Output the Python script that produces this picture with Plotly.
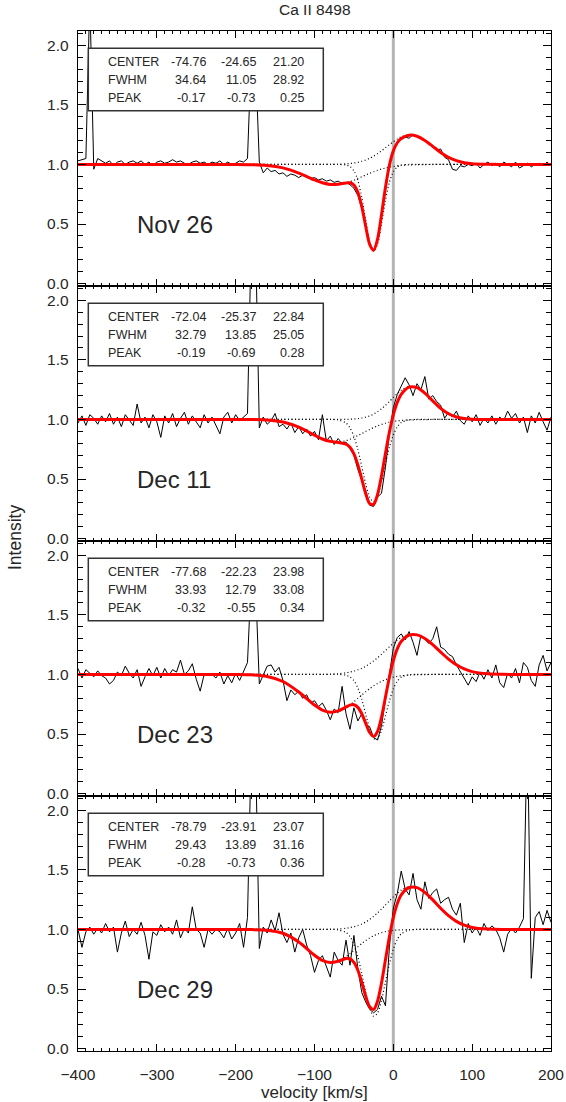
import plotly.graph_objects as go
from plotly.subplots import make_subplots

# ---------------- data ----------------
title_text = "Ca II 8498"
panel_dates = ["Nov 26", "Dec 11", "Dec 23", "Dec 29"]
row_labels = ["CENTER", "FWHM", "PEAK"]
x_tick_values = [-400, -300, -200, -100, 0, 100, 200]
y_tick_values = [0.0, 0.5, 1.0, 1.5, 2.0]
rest_velocity = 0

velocity = [
    -400, -395, -390, -385, -380, -375, -370, -365, -360, -355,
    -350, -345, -340, -335, -330, -325, -320, -315, -310, -305,
    -300, -295, -290, -285, -280, -275, -270, -265, -260, -255,
    -250, -245, -240, -235, -230, -225, -220, -215, -210, -205,
    -200, -195, -190, -185, -180, -175, -170, -165, -160, -155,
    -150, -145, -140, -135, -130, -125, -120, -115, -110, -105,
    -100, -95, -90, -85, -80, -75, -70, -65, -60, -55,
    -50, -45, -40, -35, -30, -25, -20, -15, -10, -5,
    0, 5, 10, 15, 20, 25, 30, 35, 40, 45,
    50, 55, 60, 65, 70, 75, 80, 85, 90, 95,
    100, 105, 110, 115, 120, 125, 130, 135, 140, 145,
    150, 155, 160, 165, 170, 175, 180, 185, 190, 195,
    200]

spectrum_nov26 = [
    1.03, 1.04, 1.05, 2.40, 0.96, 1.05, 1.03, 1.01, 1.03, 0.99,
    1.02, 1.03, 1.00, 1.02, 1.03, 1.01, 1.03, 1.00, 1.02, 0.99,
    1.02, 1.03, 1.01, 1.02, 1.04, 1.02, 1.03, 1.01, 1.00, 1.02,
    1.03, 1.01, 1.02, 1.00, 1.02, 1.01, 1.03, 1.00, 1.02, 1.00,
    1.01, 1.03, 1.02, 1.05, 1.95, 1.90, 1.02, 0.93, 0.97, 0.94,
    0.95, 0.92, 0.93, 0.90, 0.92, 0.91, 0.89, 0.91, 0.90, 0.88,
    0.89, 0.87, 0.88, 0.86, 0.87, 0.85, 0.86, 0.84, 0.85, 0.83,
    0.80, 0.74, 0.63, 0.47, 0.33, 0.28, 0.36, 0.57, 0.80, 0.99,
    1.12, 1.19, 1.21, 1.23, 1.22, 1.25, 1.24, 1.22, 1.20, 1.17,
    1.15, 1.12, 1.13, 1.06, 1.04, 0.96, 0.95, 0.99, 0.98, 1.00,
    0.99, 1.01, 0.97, 1.00, 1.02, 0.99, 1.01, 0.98, 1.02, 1.00,
    0.98, 1.02, 0.97, 0.99, 1.01, 0.98, 1.00, 1.01, 0.99, 1.02,
    0.99]

spectrum_dec11 = [
    0.97, 1.03, 0.95, 1.04, 1.01, 0.96, 1.03, 0.98, 1.05, 0.96,
    1.02, 0.94, 1.04, 0.99, 0.95, 1.13, 0.97, 1.02, 0.93, 1.04,
    0.98, 0.85, 1.03, 0.97, 1.05, 0.94, 1.01, 1.06, 0.96, 1.03,
    0.98, 0.93, 1.04, 0.97, 1.02, 0.95, 0.88, 1.02, 1.06, 0.97,
    1.04, 0.99, 1.02, 1.05, 2.60, 2.60, 0.93, 1.02, 0.96, 0.99,
    1.05, 0.94, 0.96, 0.92, 0.97, 0.89, 0.94, 0.88, 0.92, 0.86,
    0.90, 0.83, 1.04, 0.82, 0.86, 0.79, 0.84, 0.80, 0.81, 0.75,
    0.70, 0.58, 0.49, 0.40, 0.28, 0.27, 0.35, 0.38, 0.60, 0.88,
    1.10, 1.21, 1.28, 1.35, 1.29, 1.20, 1.30, 1.25, 1.36, 1.17,
    1.20, 1.15, 1.12, 1.01, 1.06, 1.02, 1.07, 0.99, 0.96, 1.03,
    0.98, 1.04, 0.95, 1.01, 0.97, 1.03, 0.96, 1.02, 0.99, 1.07,
    1.01, 1.05, 0.97, 1.02, 0.89, 1.03, 0.97, 1.06, 0.98, 0.91,
    1.02]

spectrum_dec23 = [
    1.05, 0.97, 1.04, 1.01, 0.98, 1.03, 0.99, 0.97, 0.92, 0.95,
    1.02, 0.99, 1.07, 1.01, 0.97, 1.04, 0.90, 0.98, 1.05, 0.99,
    1.06, 0.97, 1.05, 0.99, 1.04, 1.02, 1.12, 1.00, 1.03, 1.09,
    0.96, 0.86, 1.00, 0.99, 1.00, 0.97, 1.02, 0.92, 0.99, 0.93,
    1.01, 0.95, 1.02, 1.10, 1.85, 1.80, 0.92, 0.99, 1.07, 1.08,
    1.02, 1.06, 0.95, 0.78, 0.87, 0.83, 0.86, 0.80, 0.83, 0.76,
    0.78, 0.73, 0.76, 0.70, 0.62, 0.71, 0.68, 0.90, 0.67, 0.54,
    0.72, 0.61, 0.67, 0.58, 0.56, 0.47, 0.45, 0.57, 0.78, 0.98,
    1.22, 1.31, 1.34, 1.29, 1.36, 1.27, 1.16, 1.33, 1.29, 1.26,
    1.30, 1.40, 1.23, 1.21, 1.17, 1.15, 1.08, 1.02, 0.96, 0.91,
    0.98, 0.94, 1.02, 0.96, 1.04, 0.97, 1.08, 0.93, 0.89, 1.01,
    0.97, 1.05, 0.93, 1.10, 1.06, 0.95, 0.90, 1.08, 1.16, 1.03,
    1.10]

spectrum_dec29 = [
    1.00, 0.85, 0.98, 1.02, 0.96, 1.01, 0.97, 1.05, 0.98, 1.02,
    0.81, 0.97, 1.07, 0.94, 1.00, 0.96, 1.06, 0.95, 0.75, 0.98,
    0.95, 1.04, 0.98, 1.02, 0.96, 1.08, 0.93, 1.01, 0.97, 1.19,
    1.00, 0.97, 0.85, 1.00, 0.96, 1.00, 0.98, 0.93, 1.01, 0.92,
    0.97, 1.05, 0.85, 1.10, 2.60, 2.60, 0.84, 1.02, 0.97, 1.08,
    0.99, 1.14, 0.96, 0.89, 0.97, 0.81, 0.93, 1.00, 0.87, 0.78,
    0.64, 0.74, 0.78, 0.68, 0.60, 0.81, 0.74, 0.70, 0.91, 0.70,
    0.95, 0.67, 0.47, 0.39, 0.33, 0.30, 0.33, 0.44, 0.36, 0.85,
    1.18, 1.30, 1.49, 1.34, 1.29, 1.47, 1.25, 1.17, 1.40, 1.26,
    1.31, 1.34, 1.22, 1.25, 1.27, 1.17, 1.12, 1.22, 0.89, 1.05,
    0.97, 1.02, 0.95, 1.05, 0.99, 1.03, 1.00, 0.93, 0.81, 0.96,
    1.01, 0.97, 1.02, 1.09, 2.70, 0.59, 1.10, 1.15, 1.04, 1.16,
    1.06]

fit_velocity = [-400, -250, -200, -180, -160, -140, -120, -100, -90, -80,
                -70, -60, -55, -50, -45, -40, -35, -30, -25, -20,
                -15, -10, -5, 0, 5, 10, 20, 30, 40, 50,
                60, 70, 80, 90, 100, 120, 140, 200]

fit_nov26 = [1.000, 1.000, 1.000, 0.998, 0.992, 0.971, 0.928, 0.870, 0.846, 0.832,
             0.834, 0.845, 0.846, 0.828, 0.767, 0.646, 0.479, 0.329, 0.280, 0.374,
             0.577, 0.807, 0.993, 1.114, 1.182, 1.218, 1.246, 1.237, 1.202, 1.152,
             1.101, 1.060, 1.032, 1.015, 1.006, 1.001, 1.000, 1.000]
broad_nov26 = [1.000, 1.000, 1.000, 0.998, 0.992, 0.971, 0.928, 0.870, 0.846, 0.832,
               0.832, 0.845, 0.856, 0.868, 0.883, 0.897, 0.912, 0.926, 0.939, 0.951,
               0.962, 0.970, 0.978, 0.983, 0.988, 0.992, 0.996, 0.998, 0.999, 1.000,
               1.000, 1.000, 1.000, 1.000, 1.000, 1.000, 1.000, 1.000]
narrow_nov26 = [1.000, 1.000, 1.000, 1.000, 1.000, 1.000, 1.000, 1.000, 1.000, 1.000,
                1.000, 0.996, 0.983, 0.947, 0.866, 0.722, 0.529, 0.351, 0.270, 0.332,
                0.501, 0.697, 0.850, 0.939, 0.980, 0.995, 1.000, 1.000, 1.000, 1.000,
                1.000, 1.000, 1.000, 1.000, 1.000, 1.000, 1.000, 1.000]
emission_nov26 = [1.000, 1.000, 1.000, 1.000, 1.000, 1.000, 1.000, 1.000, 1.000, 1.000,
                  1.002, 1.005, 1.008, 1.012, 1.018, 1.027, 1.038, 1.052, 1.070, 1.091,
                  1.114, 1.140, 1.166, 1.191, 1.214, 1.232, 1.250, 1.239, 1.203, 1.152,
                  1.102, 1.060, 1.032, 1.015, 1.006, 1.001, 1.000, 1.000]

fit_dec11 = [1.000, 1.000, 1.000, 0.999, 0.995, 0.978, 0.935, 0.868, 0.836, 0.816,
             0.807, 0.793, 0.766, 0.711, 0.619, 0.499, 0.377, 0.294, 0.287, 0.371,
             0.527, 0.715, 0.894, 1.039, 1.143, 1.211, 1.271, 1.267, 1.221, 1.156,
             1.093, 1.048, 1.021, 1.008, 1.002, 1.000, 1.000, 1.000]
broad_dec11 = [1.000, 1.000, 1.000, 0.999, 0.995, 0.978, 0.935, 0.868, 0.836, 0.816,
               0.810, 0.822, 0.834, 0.848, 0.865, 0.882, 0.900, 0.916, 0.932, 0.946,
               0.958, 0.968, 0.977, 0.983, 0.988, 0.992, 0.996, 0.998, 0.999, 1.000,
               1.000, 1.000, 1.000, 1.000, 1.000, 1.000, 1.000, 1.000]
narrow_dec11 = [1.000, 1.000, 1.000, 1.000, 1.000, 1.000, 1.000, 1.000, 1.000, 1.000,
                0.996, 0.970, 0.930, 0.858, 0.747, 0.605, 0.458, 0.347, 0.310, 0.360,
                0.479, 0.627, 0.766, 0.871, 0.938, 0.974, 0.997, 1.000, 1.000, 1.000,
                1.000, 1.000, 1.000, 1.000, 1.000, 1.000, 1.000, 1.000]
emission_dec11 = [1.000, 1.000, 1.000, 1.000, 1.000, 1.000, 1.000, 1.000, 1.000, 1.000,
                  1.000, 1.001, 1.002, 1.004, 1.007, 1.012, 1.019, 1.030, 1.045, 1.065,
                  1.089, 1.119, 1.151, 1.185, 1.217, 1.246, 1.278, 1.269, 1.222, 1.156,
                  1.093, 1.048, 1.021, 1.008, 1.002, 1.000, 1.000, 1.000]

fit_dec23 = [1.000, 1.000, 1.000, 0.997, 0.983, 0.941, 0.853, 0.743, 0.701, 0.683,
             0.694, 0.727, 0.743, 0.746, 0.724, 0.670, 0.590, 0.513, 0.480, 0.523,
             0.643, 0.809, 0.977, 1.117, 1.215, 1.277, 1.330, 1.332, 1.302, 1.250,
             1.188, 1.129, 1.081, 1.046, 1.024, 1.005, 1.001, 1.000]
broad_dec23 = [1.000, 1.000, 1.000, 0.997, 0.983, 0.941, 0.853, 0.742, 0.700, 0.681,
               0.688, 0.721, 0.744, 0.771, 0.799, 0.827, 0.855, 0.881, 0.904, 0.925,
               0.942, 0.956, 0.968, 0.977, 0.984, 0.989, 0.995, 0.998, 0.999, 1.000,
               1.000, 1.000, 1.000, 1.000, 1.000, 1.000, 1.000, 1.000]
narrow_dec23 = [1.000, 1.000, 1.000, 1.000, 1.000, 1.000, 1.000, 1.000, 1.000, 1.000,
                1.000, 0.993, 0.979, 0.948, 0.887, 0.791, 0.666, 0.543, 0.463, 0.458,
                0.531, 0.652, 0.778, 0.879, 0.943, 0.977, 0.998, 1.000, 1.000, 1.000,
                1.000, 1.000, 1.000, 1.000, 1.000, 1.000, 1.000, 1.000]
emission_dec23 = [1.000, 1.000, 1.000, 1.000, 1.000, 1.000, 1.000, 1.000, 1.001, 1.002,
                  1.006, 1.014, 1.020, 1.028, 1.039, 1.052, 1.069, 1.090, 1.114, 1.140,
                  1.170, 1.201, 1.232, 1.261, 1.288, 1.311, 1.338, 1.334, 1.302, 1.250,
                  1.188, 1.129, 1.081, 1.046, 1.024, 1.005, 1.001, 1.000]

fit_dec29 = [1.000, 1.000, 1.000, 0.999, 0.994, 0.968, 0.895, 0.784, 0.740, 0.722,
             0.733, 0.757, 0.754, 0.724, 0.658, 0.556, 0.440, 0.351, 0.329, 0.399,
             0.550, 0.745, 0.939, 1.100, 1.216, 1.290, 1.352, 1.351, 1.311, 1.248,
             1.178, 1.116, 1.068, 1.036, 1.017, 1.003, 1.000, 1.000]
broad_dec29 = [1.000, 1.000, 1.000, 0.999, 0.994, 0.968, 0.895, 0.784, 0.740, 0.720,
               0.732, 0.772, 0.798, 0.826, 0.855, 0.882, 0.907, 0.929, 0.947, 0.962,
               0.973, 0.982, 0.988, 0.992, 0.995, 0.997, 0.999, 1.000, 1.000, 1.000,
               1.000, 1.000, 1.000, 1.000, 1.000, 1.000, 1.000, 1.000]
narrow_dec29 = [1.000, 1.000, 1.000, 1.000, 1.000, 1.000, 1.000, 1.000, 1.000, 1.000,
                0.997, 0.975, 0.940, 0.875, 0.770, 0.627, 0.469, 0.337, 0.272, 0.298,
                0.406, 0.558, 0.711, 0.834, 0.916, 0.963, 0.995, 1.000, 1.000, 1.000,
                1.000, 1.000, 1.000, 1.000, 1.000, 1.000, 1.000, 1.000]
emission_dec29 = [1.000, 1.000, 1.000, 1.000, 1.000, 1.000, 1.000, 1.000, 1.000, 1.002,
                  1.004, 1.010, 1.016, 1.023, 1.033, 1.046, 1.063, 1.085, 1.110, 1.139,
                  1.171, 1.205, 1.240, 1.274, 1.304, 1.330, 1.358, 1.351, 1.311, 1.248,
                  1.178, 1.116, 1.068, 1.036, 1.017, 1.003, 1.000, 1.000]

center_nov26 = [-74.76, -24.65, 21.20]
fwhm_nov26 = [34.64, 11.05, 28.92]
peak_nov26 = [-0.17, -0.73, 0.25]
center_dec11 = [-72.04, -25.37, 22.84]
fwhm_dec11 = [32.79, 13.85, 25.05]
peak_dec11 = [-0.19, -0.69, 0.28]
center_dec23 = [-77.68, -22.23, 23.98]
fwhm_dec23 = [33.93, 12.79, 33.08]
peak_dec23 = [-0.32, -0.55, 0.34]
center_dec29 = [-78.79, -23.91, 23.07]
fwhm_dec29 = [29.43, 13.89, 31.16]
peak_dec29 = [-0.28, -0.73, 0.36]

# ---------------- assemble ----------------
spectra = [spectrum_nov26, spectrum_dec11, spectrum_dec23, spectrum_dec29]
fits = [fit_nov26, fit_dec11, fit_dec23, fit_dec29]
components = [
    [broad_nov26, narrow_nov26, emission_nov26],
    [broad_dec11, narrow_dec11, emission_dec11],
    [broad_dec23, narrow_dec23, emission_dec23],
    [broad_dec29, narrow_dec29, emission_dec29],
]
tables = [
    [center_nov26, fwhm_nov26, peak_nov26],
    [center_dec11, fwhm_dec11, peak_dec11],
    [center_dec23, fwhm_dec23, peak_dec23],
    [center_dec29, fwhm_dec29, peak_dec29],
]
for s in spectra:
    assert len(s) == len(velocity), len(s)
for f in fits:
    assert len(f) == len(fit_velocity), len(f)
for cs in components:
    for c in cs:
        assert len(c) == len(fit_velocity), len(c)

FONT = "Liberation Sans, Arial, Helvetica, sans-serif"
TEXT = "#262626"

fig = make_subplots(rows=4, cols=1, shared_xaxes=True, vertical_spacing=0)

for i in range(4):
    r = i + 1
    fig.add_trace(go.Scatter(x=velocity, y=spectra[i], mode="lines",
                             line=dict(color="black", width=1),
                             showlegend=False, hoverinfo="skip"), row=r, col=1)
    for comp in components[i]:
        fig.add_trace(go.Scatter(x=fit_velocity, y=comp, mode="lines",
                                 line=dict(color="black", width=1.2, dash="1px,2.5px",
                                           shape="spline", smoothing=0.8),
                                 showlegend=False, hoverinfo="skip"), row=r, col=1)
    fig.add_trace(go.Scatter(x=fit_velocity, y=fits[i], mode="lines",
                             line=dict(color="#ff0000", width=3, shape="spline",
                                       smoothing=0.8),
                             showlegend=False, hoverinfo="skip"), row=r, col=1)
    fig.add_vline(x=rest_velocity, line=dict(color="#b4b4b4", width=3),
                  layer="below", row=r, col=1)

axis_common = dict(showline=True, linecolor="black", linewidth=1.3, mirror="allticks",
                   ticks="inside", tickcolor="black", tickwidth=1, showgrid=False,
                   zeroline=False, automargin=False,
                   tickfont=dict(family=FONT, size=15.5, color=TEXT))

for r in range(1, 5):
    fig.update_xaxes(range=[-400, 200], tickvals=x_tick_values, ticklen=7,
                     minor=dict(ticks="inside", dtick=10, ticklen=3,
                                tickcolor="black", tickwidth=1),
                     ticklabelstandoff=9,
                     row=r, col=1, **axis_common)
    fig.update_yaxes(range=[-0.02, 2.12], tickvals=y_tick_values, tickformat=".1f",
                     ticklen=8,
                     minor=dict(ticks="inside", dtick=0.1, ticklen=5,
                                tickcolor="black", tickwidth=1),
                     ticklabelstandoff=5,
                     row=r, col=1, **axis_common)

annotations = []
shapes = []
col_x = [0.2755, 0.381, 0.482]
row_y = [0.877, 0.807, 0.736]
for i in range(4):
    sfx = "" if i == 0 else str(i + 1)
    xr, yr = f"x{sfx} domain", f"y{sfx} domain"
    shapes.append(dict(type="rect", xref=xr, yref=yr, x0=0.0218, x1=0.5186,
                       y0=0.6875, y1=0.932, fillcolor="white",
                       line=dict(color="#333333", width=1.5), layer="above"))
    for j, lab in enumerate(row_labels):
        annotations.append(dict(xref=xr, yref=yr, x=0.0592, y=row_y[j], text=lab,
                                showarrow=False, xanchor="left", yanchor="middle",
                                font=dict(family=FONT, size=12.5, color=TEXT)))
        for k in range(3):
            annotations.append(dict(xref=xr, yref=yr, x=col_x[k], y=row_y[j],
                                    text=f"{tables[i][j][k]:.2f}", showarrow=False,
                                    xanchor="right", yanchor="middle",
                                    font=dict(family=FONT, size=12.5, color=TEXT)))
    annotations.append(dict(xref=xr, yref=yr, x=0.1205, y=0.243, text=panel_dates[i],
                            showarrow=False, xanchor="left", yanchor="middle",
                            font=dict(family=FONT, size=24, color=TEXT)))

annotations.append(dict(xref="paper", yref="paper", x=0.5, y=1.021, text=title_text,
                        showarrow=False, xanchor="center", yanchor="middle",
                        font=dict(family=FONT, size=15.5, color=TEXT)))
annotations.append(dict(xref="paper", yref="paper", x=-0.133, y=0.503, text="Intensity",
                        textangle=-90, showarrow=False, xanchor="center", yanchor="middle",
                        font=dict(family=FONT, size=17.5, color=TEXT)))
annotations.append(dict(xref="paper", yref="paper", x=0.5, y=-0.0402,
                        text="velocity [km/s]", showarrow=False,
                        xanchor="center", yanchor="middle",
                        font=dict(family=FONT, size=17, color=TEXT)))

fig.update_layout(width=566, height=1102,
                  margin=dict(l=78, r=15, t=31, b=51, autoexpand=False),
                  paper_bgcolor="white", plot_bgcolor="white",
                  showlegend=False, annotations=annotations,
                  shapes=list(fig.layout.shapes) + shapes)

# remove the default 8px page margin so the figure sits at the window's corner
fig.write_html("out.html",
               config={"displayModeBar": False, "staticPlot": True},
               post_script="document.body.style.margin='0';"
                           "document.body.style.overflow='hidden';")
